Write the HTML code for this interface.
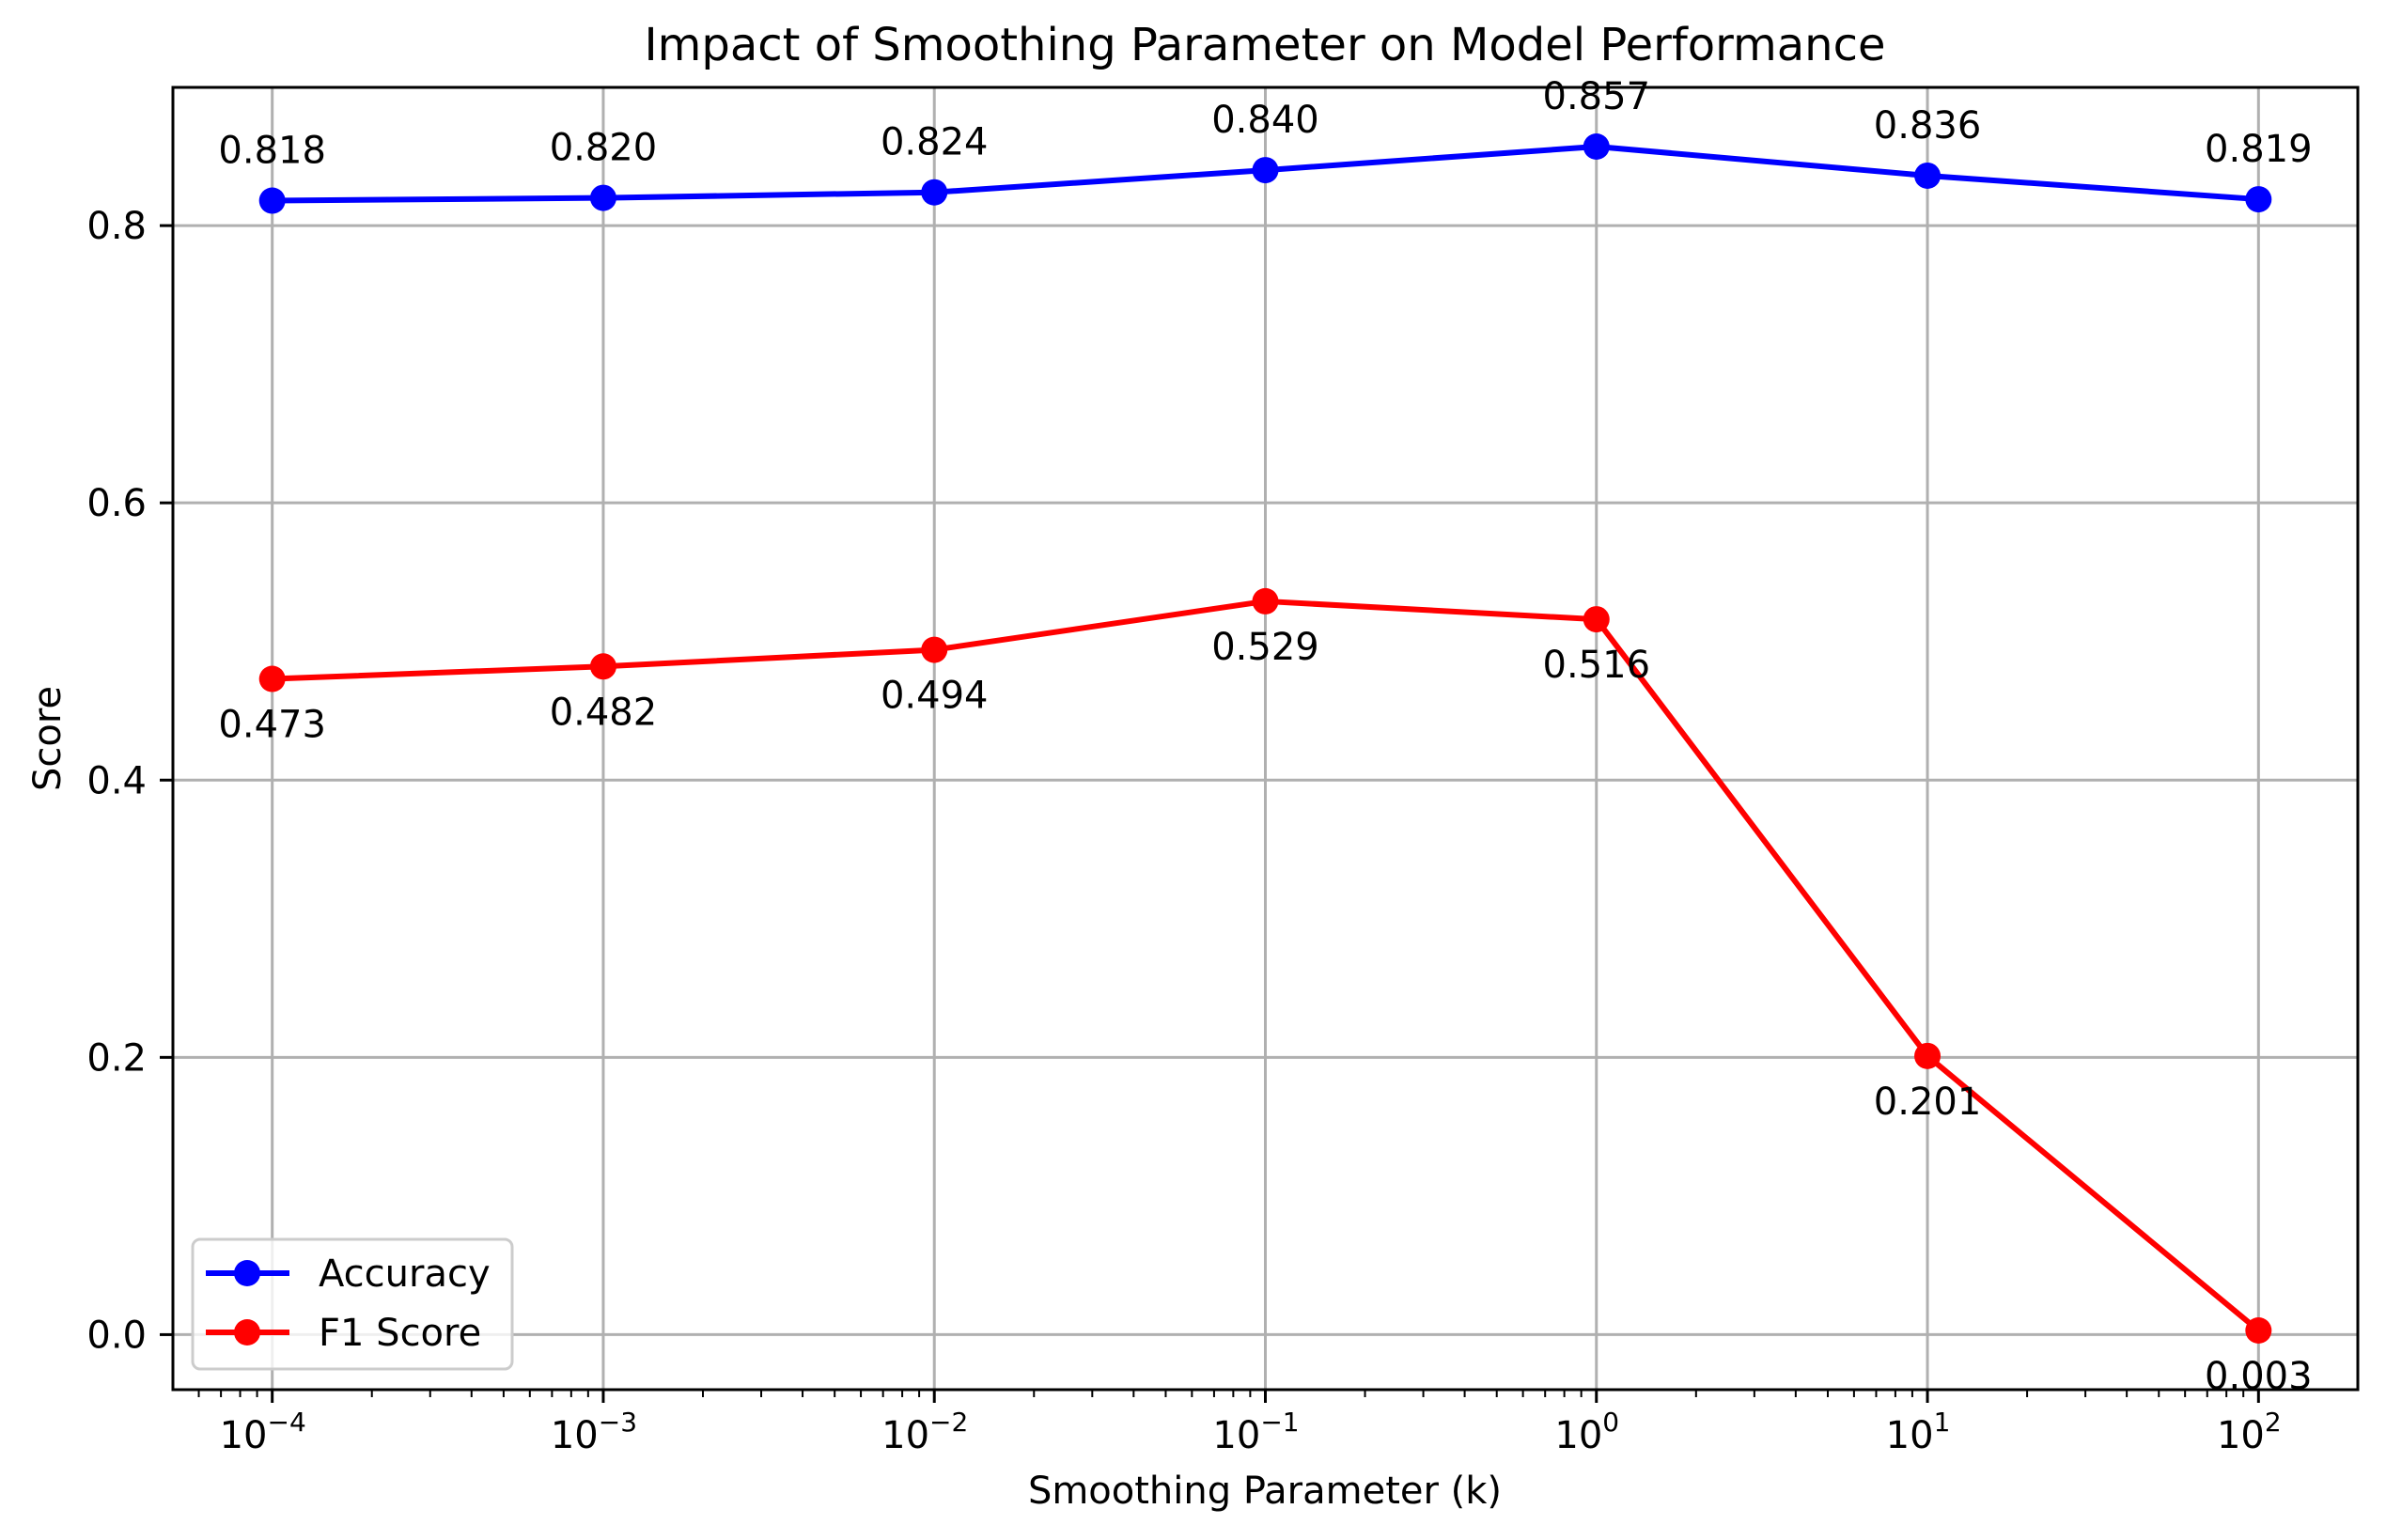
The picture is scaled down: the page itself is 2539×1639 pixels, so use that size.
<!DOCTYPE html>
<html><head><meta charset="utf-8"><style>
html,body{margin:0;padding:0;background:#fff}
svg{display:block;font-family:"DejaVu Sans","Liberation Sans",sans-serif}
</style></head><body>
<svg id="chart" width="2539" height="1639" viewBox="0 0 2539 1639" xmlns="http://www.w3.org/2000/svg">
<rect width="2539" height="1639" fill="#fff"/>
<g id="grid"></g>
<g id="series"></g>
<g id="axes"></g>
<text x="1346" y="64" font-size="48" text-anchor="middle">Impact of Smoothing Parameter on Model Performance</text>
<text x="1346" y="1600" font-size="40" text-anchor="middle">Smoothing Parameter (k)</text>
<text x="0" y="0" font-size="40" text-anchor="middle" transform="translate(64,786) rotate(-90)">Score</text>
<g>
<rect x="205" y="1319" width="340" height="138" rx="8" fill="#fff" fill-opacity="0.8" stroke="#ccc" stroke-width="3"/>
<g>
<line x1="219" y1="1355" x2="308" y2="1355" stroke="#0000ff" stroke-width="6"/>
<circle cx="263" cy="1355" r="14" fill="#0000ff"/>
<text x="339" y="1369" font-size="40">Accuracy</text>
</g>
<g>
<line x1="219" y1="1418" x2="308" y2="1418" stroke="#ff0000" stroke-width="6"/>
<circle cx="263" cy="1418" r="14" fill="#ff0000"/>
<text x="339" y="1432" font-size="40">F1 Score</text>
</g>
</g>
</svg>
<script>
const kExponents = [-4, -3, -2, -1, 0, 1, 2];
const accuracy = [0.818, 0.820, 0.824, 0.840, 0.857, 0.836, 0.819];
const f1Score = [0.473, 0.482, 0.494, 0.529, 0.516, 0.201, 0.003];
const yTicks = [0.0, 0.2, 0.4, 0.6, 0.8];
const yTickLabels = ["0.0", "0.2", "0.4", "0.6", "0.8"];

const L = 184, R = 2509, T = 93, B = 1479;
const xMin = -4.3, xMax = 2.3, yMin = -0.0397, yMax = 0.8997;
const NS = "http://www.w3.org/2000/svg";
function xs(e){ return L + (e - xMin) / (xMax - xMin) * (R - L); }
function ys(v){ return B - (v - yMin) / (yMax - yMin) * (B - T); }
function mk(tag, attrs, parent){
  const el = document.createElementNS(NS, tag);
  for (const k in attrs) el.setAttribute(k, attrs[k]);
  parent.appendChild(el);
  return el;
}
const grid = document.getElementById('grid');
const axes = document.getElementById('axes');
const series = document.getElementById('series');

kExponents.forEach(e => {
  const g = mk('line', {x1: xs(e), x2: xs(e), y1: T, y2: B, stroke: '#b0b0b0', 'stroke-width': 3}, grid);
  
  
});
yTicks.forEach(v => {
  const g = mk('line', {x1: L, x2: R, y1: ys(v), y2: ys(v), stroke: '#b0b0b0', 'stroke-width': 3}, grid);
  
  
});

function drawSeries(vals, color, name, above){
  const pts = vals.map((v, i) => xs(kExponents[i]) + ',' + ys(v)).join(' ');
  const pl = mk('polyline', {points: pts, fill: 'none', stroke: color, 'stroke-width': 6, 'stroke-linejoin': 'round'}, series);
  
  
  vals.forEach((v, i) => {
    const c = mk('circle', {cx: xs(kExponents[i]), cy: ys(v), r: 14, fill: color}, series);
    
    
    const t = mk('text', {x: xs(kExponents[i]), y: ys(v) + (above ? -40 : 62), 'font-size': 40, 'text-anchor': 'middle'}, series);
    
    
    t.textContent = v.toFixed(3);
  });
}
drawSeries(accuracy, '#0000ff', 'accuracy', true);
drawSeries(f1Score, '#ff0000', 'f1-score', false);

const frame = mk('rect', {x: L, y: T, width: R - L, height: B - T, fill: 'none', stroke: '#000', 'stroke-width': 3}, axes);



kExponents.forEach(e => {
  const tk = mk('line', {x1: xs(e), x2: xs(e), y1: B, y2: B + 14, stroke: '#000', 'stroke-width': 3}, axes);
  
  
  const t = mk('text', {x: xs(e) - 10, y: B + 62, 'font-size': 40, 'text-anchor': 'middle'}, axes);
  
  
  t.textContent = '10';
  const s = mk('tspan', {dy: -18, 'font-size': 28}, t);
  s.textContent = '\u2212' + Math.abs(e);
  if (e >= 0) s.textContent = String(e);
});
for (let d = -5; d <= 2; d++) {
  for (let m = 2; m <= 9; m++) {
    const e = d + Math.log10(m);
    if (e < xMin || e > xMax) continue;
    const tk = mk('line', {x1: xs(e), x2: xs(e), y1: B, y2: B + 8, stroke: '#000', 'stroke-width': 2}, axes);
    
    
  }
}
yTicks.forEach((v, i) => {
  const tk = mk('line', {x1: L - 14, x2: L, y1: ys(v), y2: ys(v), stroke: '#000', 'stroke-width': 3}, axes);
  
  
  const t = mk('text', {x: L - 28, y: ys(v) + 14, 'font-size': 40, 'text-anchor': 'end'}, axes);
  
  
  t.textContent = yTickLabels[i];
});
</script>
</body></html>
